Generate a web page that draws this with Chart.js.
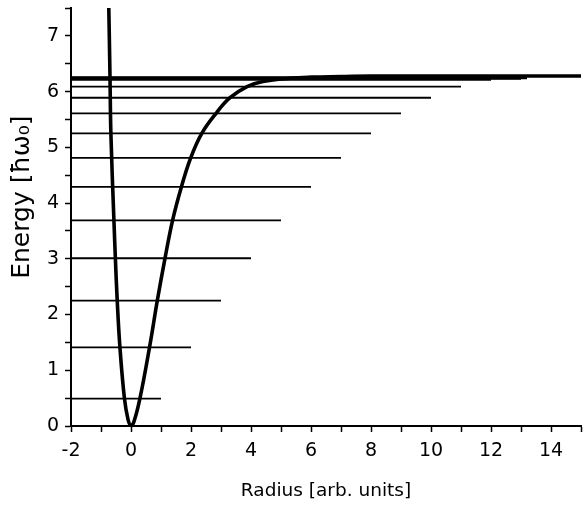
<!DOCTYPE html>
<html>
<head>
<meta charset="utf-8">
<script src="https://cdn.jsdelivr.net/npm/chart.js@4.4.1/dist/chart.umd.min.js"></script>
<style>
  html, body { margin: 0; padding: 0; background: #fff; }
  #wrap { width: 583px; height: 506px; }
</style>
</head>
<body>
<div id="wrap"><canvas id="chart"></canvas></div>
<script>
// potential curve
const curveR = [-0.74, -0.72, -0.70, -0.67, -0.57, -0.52, -0.46, -0.37, -0.22, -0.10, 0, 0.10, 0.30, 0.62, 0.88, 1.13, 1.39, 1.68, 1.99, 2.36, 2.85, 3.30, 3.87, 4.40, 5.30, 6.0, 7.0, 8.0, 10.0, 12.0, 15.0];
const curveE = [7.5, 6.9, 6.25, 5.24, 3.7, 3.0, 2.26, 1.42, 0.5, 0.12, 0, 0.08, 0.5, 1.42, 2.26, 3.0, 3.7, 4.29, 4.81, 5.25, 5.62, 5.89, 6.09, 6.18, 6.24, 6.26, 6.27, 6.28, 6.28, 6.28, 6.28];

// energy levels: height and where each line stops
const levelE = [0.49, 1.41, 2.25, 3.01, 3.69, 4.29, 4.81, 5.25, 5.61, 5.89, 6.09, 6.21, 6.24, 6.25];
const levelEnd = [1, 2, 3, 4, 5, 6, 7, 8, 9, 10, 11, 12, 13, 13.2];
const levelStart = -2;

const xMin = -2, xMax = 15;
const yMin = 0, yMax = 7.5;

const datasets = levelE.map((e, i) => ({
    data: [{ x: levelStart, y: e }, { x: levelEnd[i], y: e }],
    borderColor: '#000',
    borderWidth: i >= 12 ? 3 : 1.8,
    pointRadius: 0,
    fill: false
}));

datasets.push({
    data: curveR.map((r, i) => ({ x: r, y: curveE[i] })),
    borderColor: '#000',
    borderWidth: 3.6,
    pointRadius: 0,
    tension: 0.4,
    fill: false
});

const family = '"DejaVu Sans", Arial, sans-serif';

new Chart(document.getElementById('chart'), {
    type: 'line',
    data: { datasets },
    options: {
        responsive: true,
        maintainAspectRatio: false,
        animation: false,
        layout: { padding: 0 },
        plugins: { legend: { display: false }, tooltip: { enabled: false } },
        scales: {
            x: {
                type: 'linear',
                min: xMin, max: xMax,
                border: { color: '#000', width: 2 },
                grid: { drawOnChartArea: false, tickLength: 6, tickColor: '#000', tickWidth: 1.5 },
                ticks: {
                    stepSize: 1, autoSkip: false, maxRotation: 0, color: '#000',
                    font: { family, size: 19 }, padding: 8,
                    callback: v => (v % 2 === 0 ? v : '')
                },
                title: { display: true, text: 'Radius [arb. units]', color: '#000', font: { family, size: 18.5 }, padding: { top: 4, bottom: 4 } },
                afterFit: s => {
                    s.height = 80;
                    // plot runs right up to the edge
                    s.paddingRight = 2;
                    s.paddingLeft = 0;
                }
            },
            y: {
                type: 'linear',
                min: yMin, max: yMax,
                border: { color: '#000', width: 2 },
                grid: { drawOnChartArea: false, tickLength: 6, tickColor: '#000', tickWidth: 1.5 },
                ticks: {
                    stepSize: 0.5, autoSkip: false, color: '#000',
                    font: { family, size: 19 }, padding: 6,
                    callback: v => (Number.isInteger(v) ? v : '')
                },
                title: { display: true, text: '     Energy [ħω₀]', color: '#000', font: { family, size: 25 }, padding: { top: 7, bottom: 0 } },
                afterFit: s => {
                    s.width = 71;
                    s.paddingTop = 8;
                    s.paddingBottom = 0;
                }
            }
        }
    }
});
</script>
</body>
</html>
